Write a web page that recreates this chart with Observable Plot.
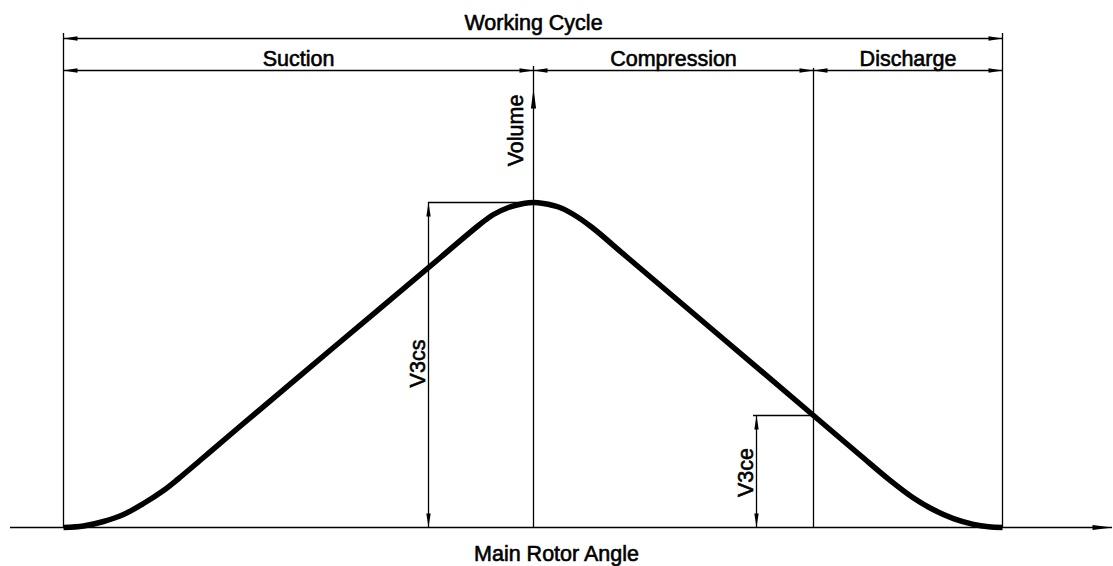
<!DOCTYPE html>
<html><head><meta charset="utf-8">
<script src="https://cdn.jsdelivr.net/npm/d3@7"></script>
<script src="https://cdn.jsdelivr.net/npm/@observablehq/plot@0.6"></script>
<style>html,body{margin:0;padding:0;background:#fff} svg{display:block}</style>
</head><body><div id="chart"></div>
<script>
// ---- data (angle and volume in arbitrary units) ----
const curveAngle  = [0, 20, 40, 60, 80, 100, 114, 140, 174, 270, 377, 415, 430, 445, 460, 470, 480, 495, 510, 528, 564, 660, 750, 797, 825, 850, 870, 890, 910, 925, 939];
const curveVolume = [0, 1.5, 6, 13, 24, 37, 48, 70, 99, 180, 270, 302, 313, 320, 324, 325, 324, 320.5, 313, 300.5, 270, 188.5, 112, 72, 48.4, 29.5, 17.7, 8.9, 3.1, 0.7, 0];
const phaseNames = ["Suction", "Compression", "Discharge"];
const phaseStart = [0, 470, 750];
const phaseEnd   = [470, 750, 939];
const cycleLabel = "Working Cycle";
const xLabel = "Main Rotor Angle";
const yLabel = "Volume";
const v3csLabel = "V3cs";
const v3ceLabel = "V3ce";

// ---- derived values ----
const cycleStart = phaseStart[0], cycleEnd = phaseEnd[phaseEnd.length - 1];
const peakIdx = curveVolume.indexOf(Math.max(...curveVolume));
const peakAngle = curveAngle[peakIdx], v3cs = curveVolume[peakIdx];
const compEnd = phaseEnd[1];
const v3ce = curveVolume[curveAngle.indexOf(compEnd)];

// ---- layout (in scale units) ----
const L = {
  cycleRow: 489, phaseRow: 457, boundTop: 494, compTop: 459, axisTop: 461, axisTip: 439,
  xAxisStart: -53, xAxisEnd: 1049, v3csX: 365, v3ceX: 693,
  titleY: 498, phaseLabelY: 462, xLabelX: 493, xLabelY: -33,
  yLabelX: 459, yLabelY: 397, v3csLabelX: 361, v3csLabelY: 164, v3ceLabelX: 689, v3ceLabelY: 55
};

const curve = curveAngle.map((a, i) => ({angle: a, volume: curveVolume[i]}));

const hLines = [
  {x1: cycleStart, x2: cycleEnd, y: L.cycleRow},
  {x1: cycleStart, x2: cycleEnd, y: L.phaseRow},
  {x1: L.xAxisStart, x2: L.xAxisEnd, y: 0},
  {x1: L.v3csX, x2: peakAngle, y: v3cs},
  {x1: L.v3ceX - 3, x2: compEnd + 2, y: v3ce}
];
const vLines = [
  {x: cycleStart, y1: 0, y2: L.boundTop},
  {x: cycleEnd, y1: 0, y2: L.boundTop},
  {x: compEnd, y1: 0, y2: L.compTop},
  {x: peakAngle, y1: 0, y2: L.axisTop},
  {x: L.v3csX, y1: 0, y2: v3cs},
  {x: L.v3ceX, y1: 0, y2: v3ce}
];

const UP = 0, RIGHT = 90, DOWN = 180, LEFT = 270;
const shortArrows = [
  {x: cycleStart, y: L.cycleRow, r: LEFT}, {x: cycleEnd, y: L.cycleRow, r: RIGHT},
  ...phaseStart.map(s => ({x: s, y: L.phaseRow, r: LEFT})),
  ...phaseEnd.map(e => ({x: e, y: L.phaseRow, r: RIGHT})),
  {x: L.v3csX, y: v3cs, r: UP}, {x: L.v3csX, y: 0, r: DOWN},
  {x: L.v3ceX, y: v3ce, r: UP}, {x: L.v3ceX, y: 0, r: DOWN}
];
const longArrows = [
  {x: peakAngle, y: L.axisTip, r: UP},
  {x: L.xAxisEnd, y: 0, r: RIGHT}
];

function arrowSymbol(len, half) {
  return {draw(ctx) { ctx.moveTo(0, 0); ctx.lineTo(-half, len); ctx.lineTo(half, len); ctx.closePath(); }};
}

const labels = [
  {x: peakAngle, y: L.titleY, t: cycleLabel},
  ...phaseNames.map((n, i) => ({x: (phaseStart[i] + phaseEnd[i]) / 2, y: L.phaseLabelY, t: n})),
  {x: L.xLabelX, y: L.xLabelY, t: xLabel}
];
const vLabels = [
  {x: L.yLabelX, y: L.yLabelY, t: yLabel},
  {x: L.v3csLabelX, y: L.v3csLabelY, t: v3csLabel},
  {x: L.v3ceLabelX, y: L.v3ceLabelY, t: v3ceLabel}
];

const font = {fontSize: 21.5, fontFamily: "Liberation Sans, Arial, sans-serif", fill: "#000", stroke: "#000", strokeWidth: 0.6};

const chart = Plot.plot({
  width: 1113, height: 566,
  marginTop: 0, marginRight: 0, marginBottom: 0, marginLeft: 0,
  x: {domain: [-63, 1050], axis: null},
  y: {domain: [-39, 527], axis: null},
  style: {background: "#fff"},
  marks: [
    Plot.ruleY(hLines, {x1: "x1", x2: "x2", y: "y", stroke: "#000", strokeWidth: 1.3}),
    Plot.ruleX(vLines, {x: "x", y1: "y1", y2: "y2", stroke: "#000", strokeWidth: 1.3}),
    Plot.line(curve, {x: "angle", y: "volume", curve: "catmull-rom", stroke: "#000", strokeWidth: 5.5, strokeLinecap: "butt"}),
    Plot.dot(shortArrows, {x: "x", y: "y", rotate: "r", symbol: arrowSymbol(14, 2.2), fill: "#000", stroke: "none"}),
    Plot.dot(longArrows, {x: "x", y: "y", rotate: "r", symbol: arrowSymbol(20, 2.6), fill: "#000", stroke: "none"}),
    Plot.text(labels, {x: "x", y: "y", text: "t", lineAnchor: "bottom", textAnchor: "middle", ...font}),
    Plot.text(vLabels, {x: "x", y: "y", text: "t", lineAnchor: "bottom", textAnchor: "middle", rotate: -90, ...font})
  ]
});
document.getElementById("chart").appendChild(chart);
</script>
</body></html>
